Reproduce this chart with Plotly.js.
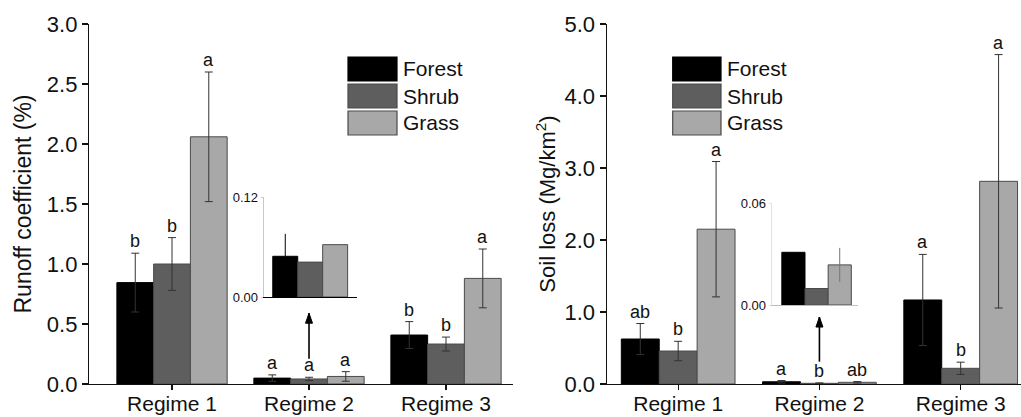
<!DOCTYPE html>
<html>
<head>
<meta charset="utf-8">
<script src="https://cdn.plot.ly/plotly-3.0.1.min.js"></script>
<style>html,body{margin:0;padding:0;background:#fff}#chart{width:1021px;height:417px}</style>
</head>
<body>
<div id="chart"></div>
<script>
// ---------------- data ----------------
const categories = ['Regime 1', 'Regime 2', 'Regime 3'];
const seriesNames = ['Forest', 'Shrub', 'Grass'];

// Runoff coefficient (%)
const runoffForest = [0.845, 0.049, 0.408];
const runoffForestErr = [0.245, 0.027, 0.112];
const runoffShrub = [1.00, 0.042, 0.333];
const runoffShrubErr = [0.22, 0.014, 0.058];
const runoffGrass = [2.06, 0.063, 0.88];
const runoffGrassErr = [0.54, 0.04, 0.245];
const runoffForestLetters = ['b', 'a', 'b'];
const runoffShrubLetters = ['b', 'a', 'b'];
const runoffGrassLetters = ['a', 'a', 'a'];

// Soil loss (Mg/km2)
const soilForest = [0.625, 0.031, 1.167];
const soilForestErr = [0.215, 0.017, 0.633];
const soilShrub = [0.458, 0.0097, 0.218];
const soilShrubErr = [0.135, 0.006, 0.085];
const soilGrass = [2.15, 0.0236, 2.815];
const soilGrassErr = [0.94, 0.01, 1.76];
const soilForestLetters = ['ab', 'a', 'a'];
const soilShrubLetters = ['b', 'b', 'b'];
const soilGrassLetters = ['a', 'ab', 'a'];

const runoffTicks = [0, 0.5, 1.0, 1.5, 2.0, 2.5, 3.0];
const soilTicks = [0, 1, 2, 3, 4, 5];
const runoffInsetTicks = [0, 0.12];
const soilInsetTicks = [0, 0.06];

// ---------------- style ----------------
const W = 1021, H = 417;
const FONT = 'Arial, "Liberation Sans", Helvetica, sans-serif';
const fills = ['#000000', '#5e5e5e', '#a8a8a8'];
const outline = '#4a4a4a';
const BARGAP = 0.195;
const barW = (1 - BARGAP) / 3;
const px = v => v / W;
const py = v => 1 - v / H;

const runoff = {vals: [runoffForest, runoffShrub, runoffGrass],
                errs: [runoffForestErr, runoffShrubErr, runoffGrassErr],
                letters: [runoffForestLetters, runoffShrubLetters, runoffGrassLetters]};
const soil = {vals: [soilForest, soilShrub, soilGrass],
              errs: [soilForestErr, soilShrubErr, soilGrassErr],
              letters: [soilForestLetters, soilShrubLetters, soilGrassLetters]};

const insetErrColors = {
  left: ['#000000', 'rgba(0,0,0,0)', 'rgba(0,0,0,0)'],
  right: ['rgba(0,0,0,0)', 'rgba(0,0,0,0)', '#777777']
};

const traces = [];
function addMain(ds, xa, ya) {
  for (let s = 0; s < 3; s++) {
    traces.push({
      type: 'bar', name: seriesNames[s], x: categories, y: ds.vals[s],
      xaxis: xa, yaxis: ya, showlegend: false,
      marker: {color: fills[s], line: {color: s === 0 ? '#000' : outline, width: 1}},
      error_y: {type: 'data', array: ds.errs[s], visible: true, color: '#333', thickness: 1, width: 4},
      hoverinfo: 'x+y+name'
    });
  }
}
function addInset(ds, xa, ya, errCols) {
  for (let s = 0; s < 3; s++) {
    traces.push({
      type: 'bar', name: seriesNames[s], x: [categories[1]], y: [ds.vals[s][1]],
      xaxis: xa, yaxis: ya, showlegend: false,
      marker: {color: fills[s], line: {color: s === 0 ? '#000' : outline, width: 1}},
      error_y: {type: 'data', array: [ds.errs[s][1]], visible: true, color: errCols[s], thickness: 1, width: 0},
      hoverinfo: 'y+name'
    });
  }
}
addMain(runoff, 'x', 'y');
addMain(soil, 'x2', 'y2');
addInset(runoff, 'x3', 'y3', insetErrColors.left);
addInset(soil, 'x4', 'y4', insetErrColors.right);

const annotations = [];
function addLetters(ds, xa, ya) {
  for (let s = 0; s < 3; s++) {
    for (let i = 0; i < categories.length; i++) {
      annotations.push({
        xref: xa, yref: ya, x: i + (s - 1) * barW, y: ds.vals[s][i] + ds.errs[s][i],
        text: ds.letters[s][i], showarrow: false, yanchor: 'bottom', xanchor: 'center',
        yshift: 0, font: {family: FONT, size: 18, color: '#111'}
      });
    }
  }
}
addLetters(runoff, 'x', 'y');
addLetters(soil, 'x2', 'y2');

const shapes = [];
// arrows from Regime 2 up to the inset (shaft + head)
function addArrow(xa, ya, yTail, yTip) {
  shapes.push({type: 'line', xref: xa, yref: ya, x0: 1, x1: 1, y0: yTail, y1: yTip,
    line: {color: '#000', width: 1.6}});
  shapes.push({type: 'path', xref: xa, yref: ya, xsizemode: 'pixel', ysizemode: 'pixel',
    xanchor: 1, yanchor: yTip, path: 'M-3.5,-10 L3.5,-10 L0,0 Z',
    fillcolor: '#000', line: {color: '#000', width: 1}});
}
addArrow('x', 'y', 0.21, 0.59);
addArrow('x2', 'y2', 0.31, 0.93);

// custom legends (big boxes)
function addLegend(bx0, bx1, top) {
  for (let s = 0; s < 3; s++) {
    const y0 = top + 27 * s, y1 = y0 + 24;
    shapes.push({type: 'rect', xref: 'paper', yref: 'paper', x0: px(bx0), x1: px(bx1), y0: py(y1), y1: py(y0),
      fillcolor: fills[s], line: {color: s === 0 ? '#000' : outline, width: 1.2}});
    annotations.push({xref: 'paper', yref: 'paper', x: px(bx1 + 4), y: py((y0 + y1) / 2),
      text: seriesNames[s], showarrow: false, xanchor: 'left', yanchor: 'middle',
      font: {family: FONT, size: 21, color: '#111'}});
  }
}
addLegend(348, 397, 57);
addLegend(672.7, 721, 57);

const yDom = [py(384), py(24)];
const axisCommon = {showline: true, linecolor: '#111', linewidth: 1.2, ticks: 'outside', ticklen: 6,
  tickcolor: '#111', tickwidth: 1.2, showgrid: false, zeroline: false, automargin: false,
  tickfont: {family: FONT, size: 21, color: '#111'}};
const xCommon = {ticklen: 5, ticklabelstandoff: -4};

const layout = {
  width: W, height: H, margin: {l: 0, r: 0, t: 0, b: 0},
  paper_bgcolor: '#fff', plot_bgcolor: 'rgba(0,0,0,0)',
  barmode: 'group', bargap: BARGAP, bargroupgap: 0, showlegend: false,
  font: {family: FONT, color: '#111'},
  xaxis: Object.assign({}, axisCommon, xCommon, {domain: [px(89), px(513)], anchor: 'y', type: 'category',
    range: [-0.606, 2.489], categoryorder: 'array', categoryarray: categories}),
  yaxis: Object.assign({}, axisCommon, {domain: yDom, anchor: 'x', range: [0, 3],
    tickvals: runoffTicks, tickformat: '.1f', tickfont: {family: FONT, size: 22, color: '#111'},
    title: {text: 'Runoff coefficient (%)', standoff: 8, font: {family: FONT, size: 23, color: '#111'}}}),
  xaxis2: Object.assign({}, axisCommon, xCommon, {domain: [px(606.7), 1], anchor: 'y2', type: 'category',
    range: [-0.506, 2.427], categoryorder: 'array', categoryarray: categories}),
  yaxis2: Object.assign({}, axisCommon, {domain: yDom, anchor: 'x2', range: [0, 5],
    tickvals: soilTicks, tickformat: '.1f', tickfont: {family: FONT, size: 22, color: '#111'},
    title: {text: 'Soil loss (Mg/km<sup>2</sup>)', standoff: 2, font: {family: FONT, size: 22, color: '#111'}}}),
  xaxis3: {domain: [px(263.7), px(356.7)], anchor: 'y3', type: 'category', range: [-0.5, 0.5],
    showline: true, linecolor: '#000', linewidth: 1, showticklabels: false, ticks: '', showgrid: false,
    zeroline: false, automargin: false},
  yaxis3: {domain: [py(297), py(197.3)], anchor: 'x3', range: [0, 0.12], tickvals: runoffInsetTicks,
    tickformat: '.2f', showline: true, linecolor: '#c8c8c8', linewidth: 1, ticks: 'outside', ticklen: 2,
    tickcolor: '#c8c8c8', showgrid: false, zeroline: false, automargin: false,
    tickfont: {family: FONT, size: 13, color: '#111'}},
  xaxis4: {domain: [px(771.7), px(858)], anchor: 'y4', type: 'category', range: [-0.52, 0.48],
    showline: true, linecolor: '#bdbdbd', linewidth: 1, showticklabels: false, ticks: '', showgrid: false,
    zeroline: false, automargin: false},
  yaxis4: {domain: [py(305), py(203)], anchor: 'x4', range: [0, 0.06], tickvals: soilInsetTicks,
    tickformat: '.2f', showline: true, linecolor: '#e2e2e2', linewidth: 1, ticks: 'outside', ticklen: 2,
    tickcolor: '#e2e2e2', showgrid: false, zeroline: false, automargin: false,
    tickfont: {family: FONT, size: 13, color: '#111'}},
  annotations: annotations,
  shapes: shapes
};

Plotly.newPlot('chart', traces, layout, {displayModeBar: false, staticPlot: true});
</script>
</body>
</html>
